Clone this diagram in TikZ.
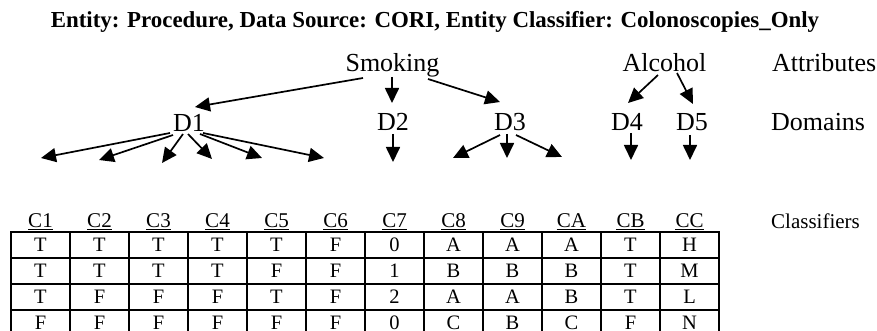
\documentclass[tikz,border=0pt]{standalone}
\usepackage{fontspec}
\setmainfont{Liberation Serif}
\usetikzlibrary{arrows.meta}
\begin{document}
\begin{tikzpicture}[x=1pt,y=-1pt,
  lbl/.style={font=\fontsize{26}{30}\selectfont, inner sep=0pt, anchor=base},
  side/.style={lbl, anchor=base west},
  hdr/.style={font=\fontsize{21}{24}\selectfont, inner sep=0pt, anchor=base},
  val/.style={font=\fontsize{20.5}{24}\selectfont, inner sep=0pt, text depth=0pt, anchor=base},
  arr/.style={line width=1.7pt, -{Triangle[length=15pt,width=14pt]}},
  rule/.style={line width=2pt, line cap=rect},
  ul/.style={line width=1pt}]
\clip (0,0) rectangle (877,331);

% heading
\node[font=\bfseries\fontsize{22.9}{27}\selectfont, inner sep=0pt, anchor=base] (title) at (435,27.5)
  {Entity: Procedure, Data Source: CORI, Entity Classifier: Colonoscopies\_Only};

% attributes and domains
\node[lbl] (smoking) at (392.5,72) {Smoking};
\node[lbl] (alcohol) at (664.5,72) {Alcohol};
\node[lbl] (d1) at (189,132) {D1};
\node[lbl] (d2) at (393,131) {D2};
\node[lbl] (d3) at (510,131) {D3};
\node[lbl] (d4) at (627,131) {D4};
\node[lbl] (d5) at (692,131) {D5};
\node[side] (attr) at (772,72) {Attributes};
\node[side] (dom) at (771,131) {Domains};
\node[side, font=\fontsize{21}{24}\selectfont] (cls) at (771,228) {Classifiers};

% loose ends of the domain arrows
\coordinate (e1) at (41,158);
\coordinate (e2) at (99,160);
\coordinate (e3) at (162,163);
\coordinate (e4) at (212,159);
\coordinate (e5) at (262,158);
\coordinate (e6) at (324,158);
\coordinate (e7) at (393,162);
\coordinate (e8) at (453,158);
\coordinate (e9) at (507,158);
\coordinate (e10) at (562,157);
\coordinate (e11) at (631,160);
\coordinate (e12) at (690,160);

% attribute -> domain
\draw[arr] ([shift={(-29.5,6)}]smoking.base) -- ([shift={(6,-25)}]d1.base);
\draw[arr] ([shift={(-0.5,5)}]smoking.base) -- ([shift={(-1,-28)}]d2.base);
\draw[arr] ([shift={(35.5,7)}]smoking.base) -- ([shift={(-10,-29)}]d3.base);
\draw[arr] ([shift={(-6.5,3)}]alcohol.base) -- ([shift={(1,-28)}]d4.base);
\draw[arr] ([shift={(12.5,1)}]alcohol.base) -- ([shift={(1,-27)}]d5.base);

% domain -> classifier
\draw[arr] ([shift={(-19,1)}]d1.base) -- (e1);
\draw[arr] ([shift={(-16,3)}]d1.base) -- (e2);
\draw[arr] ([shift={(-6,2)}]d1.base) -- (e3);
\draw[arr] ([shift={(-1,2)}]d1.base) -- (e4);
\draw[arr] ([shift={(11,2)}]d1.base) -- (e5);
\draw[arr] ([shift={(14,1)}]d1.base) -- (e6);
\draw[arr] ([shift={(0,3)}]d2.base) -- (e7);
\draw[arr] ([shift={(-10,4)}]d3.base) -- (e8);
\draw[arr] ([shift={(-3,3)}]d3.base) -- (e9);
\draw[arr] ([shift={(6,4)}]d3.base) -- (e10);
\draw[arr] ([shift={(4,2)}]d4.base) -- (e11);
\draw[arr] ([shift={(-2,4)}]d5.base) -- (e12);

% classifier table: headings
\foreach \h [count=\c from 0] in {C1,C2,C3,C4,C5,C6,C7,C8,C9,CA,CB,CC} {
  \node[hdr] (h\c) at (40.5+59*\c,227) {\h};
  \draw[ul] ([yshift=-2.5pt]h\c.base west) -- ([yshift=-2.5pt]h\c.base east);
}

% classifier table: values
\foreach \row [count=\r from 0] in {{T,T,T,T,T,F,0,A,A,A,T,H},
                                    {T,T,T,T,F,F,1,B,B,B,T,M},
                                    {T,F,F,F,T,F,2,A,A,B,T,L},
                                    {F,F,F,F,F,F,0,C,B,C,F,N}} {
  \foreach \v [count=\c from 0] in \row {
    \node[val] (v\r-\c) at (40.5+59*\c,251+26.2*\r) {\v};
  }
}

% classifier table: rules
\foreach \k in {0,...,4} \draw[rule] (11,231.5+26.2*\k) -- (719,231.5+26.2*\k);
\foreach \i in {0,...,12} \draw[rule] (11+59*\i,231.5) -- (11+59*\i,336.3);
\end{tikzpicture}
\end{document}
